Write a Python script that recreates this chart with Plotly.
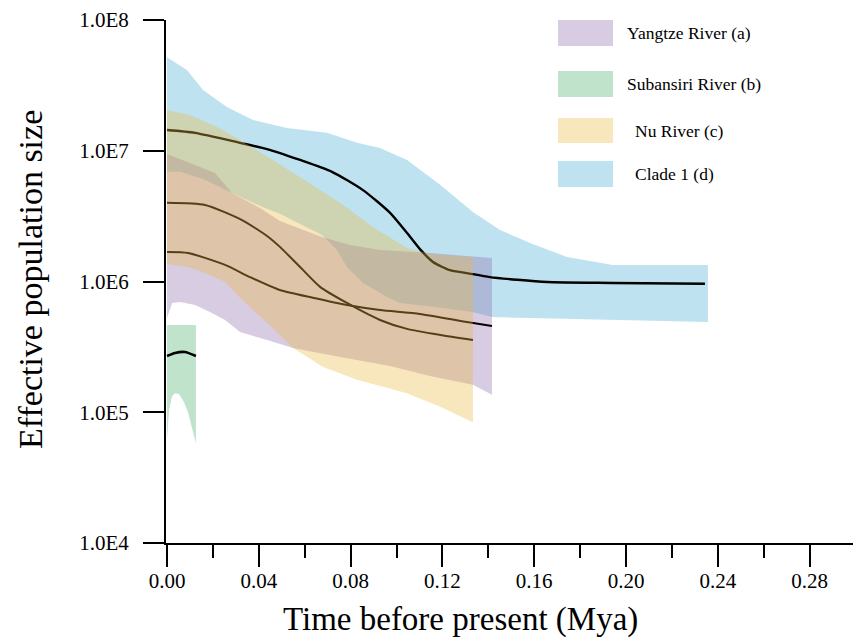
import plotly.graph_objects as go

# ---------------- data (time in Mya, effective population size) ----------------
# Clade 1 (d)
clade_up_t = [0, .0087, .0157, .0261, .0375, .0523, .0697, .0828, .0928, .1046, .1190, .1333, .1451, .1582, .1743, .1943, .2357]
clade_up_v = [5.2e7, 4.15e7, 2.92e7, 2.16e7, 1.72e7, 1.49e7, 1.37e7, 1.15e7, 1.05e7, 8.5e6, 5.5e6, 3.4e6, 2.48e6, 1.97e6, 1.54e6, 1.34e6, 1.34e6]
clade_lo_t = [0, .0057, .0166, .0283, .0427, .0492, .0675, .0741, .0784, .0854, .0959, .1015, .1159, .1329, .1416, .2357]
clade_lo_v = [6.9e6, 6.9e6, 6.0e6, 4.75e6, 3.65e6, 3.3e6, 2.27e6, 1.74e6, 1.29e6, 9.75e5, 7.6e5, 6.85e5, 6.4e5, 5.85e5, 5.35e5, 4.9e5]
clade_md_t = [0, .0122, .0318, .0436, .0580, .0719, .0854, .0972, .1046, .1102, .1159, .1233, .1307, .1407, .1656, .1943, .2344]
clade_md_v = [1.44e7, 1.37e7, 1.15e7, 1.03e7, 8.5e6, 6.9e6, 5.0e6, 3.35e6, 2.35e6, 1.77e6, 1.41e6, 1.22e6, 1.16e6, 1.08e6, 9.9e5, 9.75e5, 9.6e5]

# Nu River (c)
nu_up_t = [0, .0100, .0218, .0318, .0462, .0610, .0754, .0898, .1046, .1146, .1333]
nu_up_v = [2.05e7, 1.88e7, 1.52e7, 1.21e7, 8.5e6, 5.8e6, 4.0e6, 2.6e6, 1.8e6, 1.62e6, 1.54e6]
nu_lo_t = [0, .0092, .0166, .0253, .0318, .0436, .0549, .0680, .0828, .1046, .1190, .1333]
nu_lo_v = [1.36e6, 1.29e6, 1.16e6, 9.9e5, 7.5e5, 4.82e5, 3.1e5, 2.22e5, 1.77e5, 1.4e5, 1.1e5, 8.4e4]
nu_md_t = [0, .0166, .0327, .0436, .0492, .0580, .0667, .0784, .0928, .1046, .1190, .1333]
nu_md_v = [4.0e6, 3.85e6, 2.95e6, 2.23e6, 1.84e6, 1.29e6, 9.1e5, 6.85e5, 5.08e5, 4.34e5, 3.9e5, 3.57e5]

# Yangtze River (a)
yz_up_t = [0, .0092, .0209, .0283, .0405, .0492, .0675, .0797, .0928, .1146, .1416]
yz_up_v = [9.45e6, 8.2e6, 6.77e6, 4.75e6, 3.65e6, 2.9e6, 2.19e6, 1.9e6, 1.74e6, 1.65e6, 1.51e6]
yz_lo_t = [0, .0022, .0057, .0122, .0187, .0253, .0318, .0436, .0549, .0754, .0972, .1146, .1333, .1416]
yz_lo_v = [5.26e5, 6.85e5, 6.97e5, 6.6e5, 5.85e5, 5.08e5, 4.11e5, 3.57e5, 3.1e5, 2.65e5, 2.26e5, 1.89e5, 1.62e5, 1.36e5]
yz_md_t = [0, .0092, .0253, .0362, .0492, .0636, .0784, .0928, .1102, .1307, .1416]
yz_md_v = [1.68e6, 1.65e6, 1.34e6, 1.08e6, 8.6e5, 7.5e5, 6.6e5, 6.05e5, 5.65e5, 4.9e5, 4.57e5]

# Subansiri River (b)
sb_up_t = [0, .0126]
sb_up_v = [4.65e5, 4.65e5]
sb_lo_t = [0, .0009, .0022, .0035, .0052, .0074, .0092, .0109, .0126]
sb_lo_v = [6.1e4, 1.04e5, 1.33e5, 1.4e5, 1.38e5, 1.2e5, 9.9e4, 7.7e4, 5.8e4]
sb_md_t = [0, .0035, .0078, .0126]
sb_md_v = [2.69e5, 2.84e5, 2.89e5, 2.69e5]

y_tickvals = [1e4, 1e5, 1e6, 1e7, 1e8]
y_ticktext = ["1.0E4", "1.0E5", "1.0E6", "1.0E7", "1.0E8"]

legend_names = ["Yangtze River (a)", "Subansiri River (b)", "Nu River (c)", "Clade 1 (d)"]

# ---------------- styling ----------------
A = 0.35
col_purple = f"rgba(144,109,172,{A})"
col_green = f"rgba(75,175,109,{A})"
col_yellow = f"rgba(235,184,64,{A})"
col_blue = f"rgba(72,172,212,{A})"
legend_cols = ["rgb(216,204,226)", "rgb(192,227,204)", "rgb(248,230,188)", "rgb(191,226,240)"]
FONT = "Liberation Serif, Times New Roman, serif"


def band(up_t, up_v, lo_t, lo_v, color):
    return go.Scatter(x=list(up_t) + list(lo_t)[::-1], y=list(up_v) + list(lo_v)[::-1],
                      fill="toself", fillcolor=color, mode="lines", line=dict(width=0),
                      hoverinfo="skip", showlegend=False)


def median(t, v, width=2.2):
    return go.Scatter(x=t, y=v, mode="lines", line=dict(color="black", width=width, shape="spline", smoothing=0.6),
                      hoverinfo="skip", showlegend=False)


fig = go.Figure()
fig.add_trace(band(clade_up_t, clade_up_v, clade_lo_t, clade_lo_v, col_blue))
fig.add_trace(band(yz_up_t, yz_up_v, yz_lo_t, yz_lo_v, col_purple))
fig.add_trace(band(sb_up_t, sb_up_v, sb_lo_t, sb_lo_v, col_green))
fig.add_trace(median(clade_md_t, clade_md_v, 2.4))
fig.add_trace(median(yz_md_t, yz_md_v, 2.0))
fig.add_trace(median(nu_md_t, nu_md_v, 2.0))
fig.add_trace(median(sb_md_t, sb_md_v, 2.6))
fig.add_trace(band(nu_up_t, nu_up_v, nu_lo_t, nu_lo_v, col_yellow))

# page body has an 8px margin: work in screen pixels, subtract offset
OFF = 8
SW, SH = 861, 643
W, H = SW - OFF, SH - OFF
S_L, S_T, S_B = 166, 20, 543          # screen positions of plot edges
L, T = S_L - OFF, S_T - OFF
B = H - (S_B - OFF)
R = 0
pw, ph = W - L - R, H - T - B
xpx0 = 167
pxu = 2295.0
x_range = [(S_L - xpx0) / pxu, (SW - xpx0) / pxu]


def px(x):
    return (x - S_L) / pw


def py(y):
    return (S_B - y) / ph


shapes = []
annotations = []
box_rows = [(20, 46), (71, 97), (118, 143), (161, 187)]
text_x = [627, 627, 635, 635]
for (y0, y1), col, name, tx in zip(box_rows, legend_cols, legend_names, text_x):
    shapes.append(dict(type="rect", xref="paper", yref="paper", x0=px(558), x1=px(613), y0=py(y1), y1=py(y0),
                       fillcolor=col, line=dict(width=0), layer="above"))
    annotations.append(dict(xref="paper", yref="paper", x=px(tx - 2), y=py((y0 + y1) / 2), text=name, showarrow=False,
                            xanchor="left", yanchor="middle", font=dict(family=FONT, size=17.5, color="black")))

annotations.append(dict(xref="paper", yref="paper", x=px(460), y=py(619), text="Time before present (Mya)",
                        showarrow=False, xanchor="center", yanchor="middle",
                        font=dict(family=FONT, size=33, color="black")))
annotations.append(dict(xref="paper", yref="paper", x=px(30), y=py(280), text="Effective population size",
                        showarrow=False, xanchor="center", yanchor="middle", textangle=-90,
                        font=dict(family=FONT, size=34, color="black")))

fig.update_layout(
    width=W, height=H,
    margin=dict(l=L, r=R, t=T, b=B, pad=0),
    paper_bgcolor="white", plot_bgcolor="white",
    showlegend=False, hovermode=False,
    font=dict(family=FONT, color="black"),
    shapes=shapes, annotations=annotations,
    xaxis=dict(range=x_range, showgrid=False, zeroline=False, showline=True, linecolor="black", linewidth=2,
               ticks="outside", ticklen=22, tickwidth=2, tickcolor="black", tick0=0, dtick=0.04,
               tickformat=".2f", tickfont=dict(family=FONT, size=21, color="black"), ticklabelstandoff=-4,
               minor=dict(ticks="outside", tick0=0, dtick=0.02, ticklen=13, tickwidth=2, tickcolor="black",
                          showgrid=False)),
    yaxis=dict(type="log", range=[4, 8], showgrid=False, zeroline=False, showline=True, linecolor="black",
               linewidth=2, ticks="outside", ticklen=21, tickwidth=2, tickcolor="black",
               tickvals=y_tickvals, ticktext=y_ticktext, tickfont=dict(family=FONT, size=21, color="black"),
               ticklabelstandoff=10),
)

fig.write_html("out.html", config={"displayModeBar": False})
